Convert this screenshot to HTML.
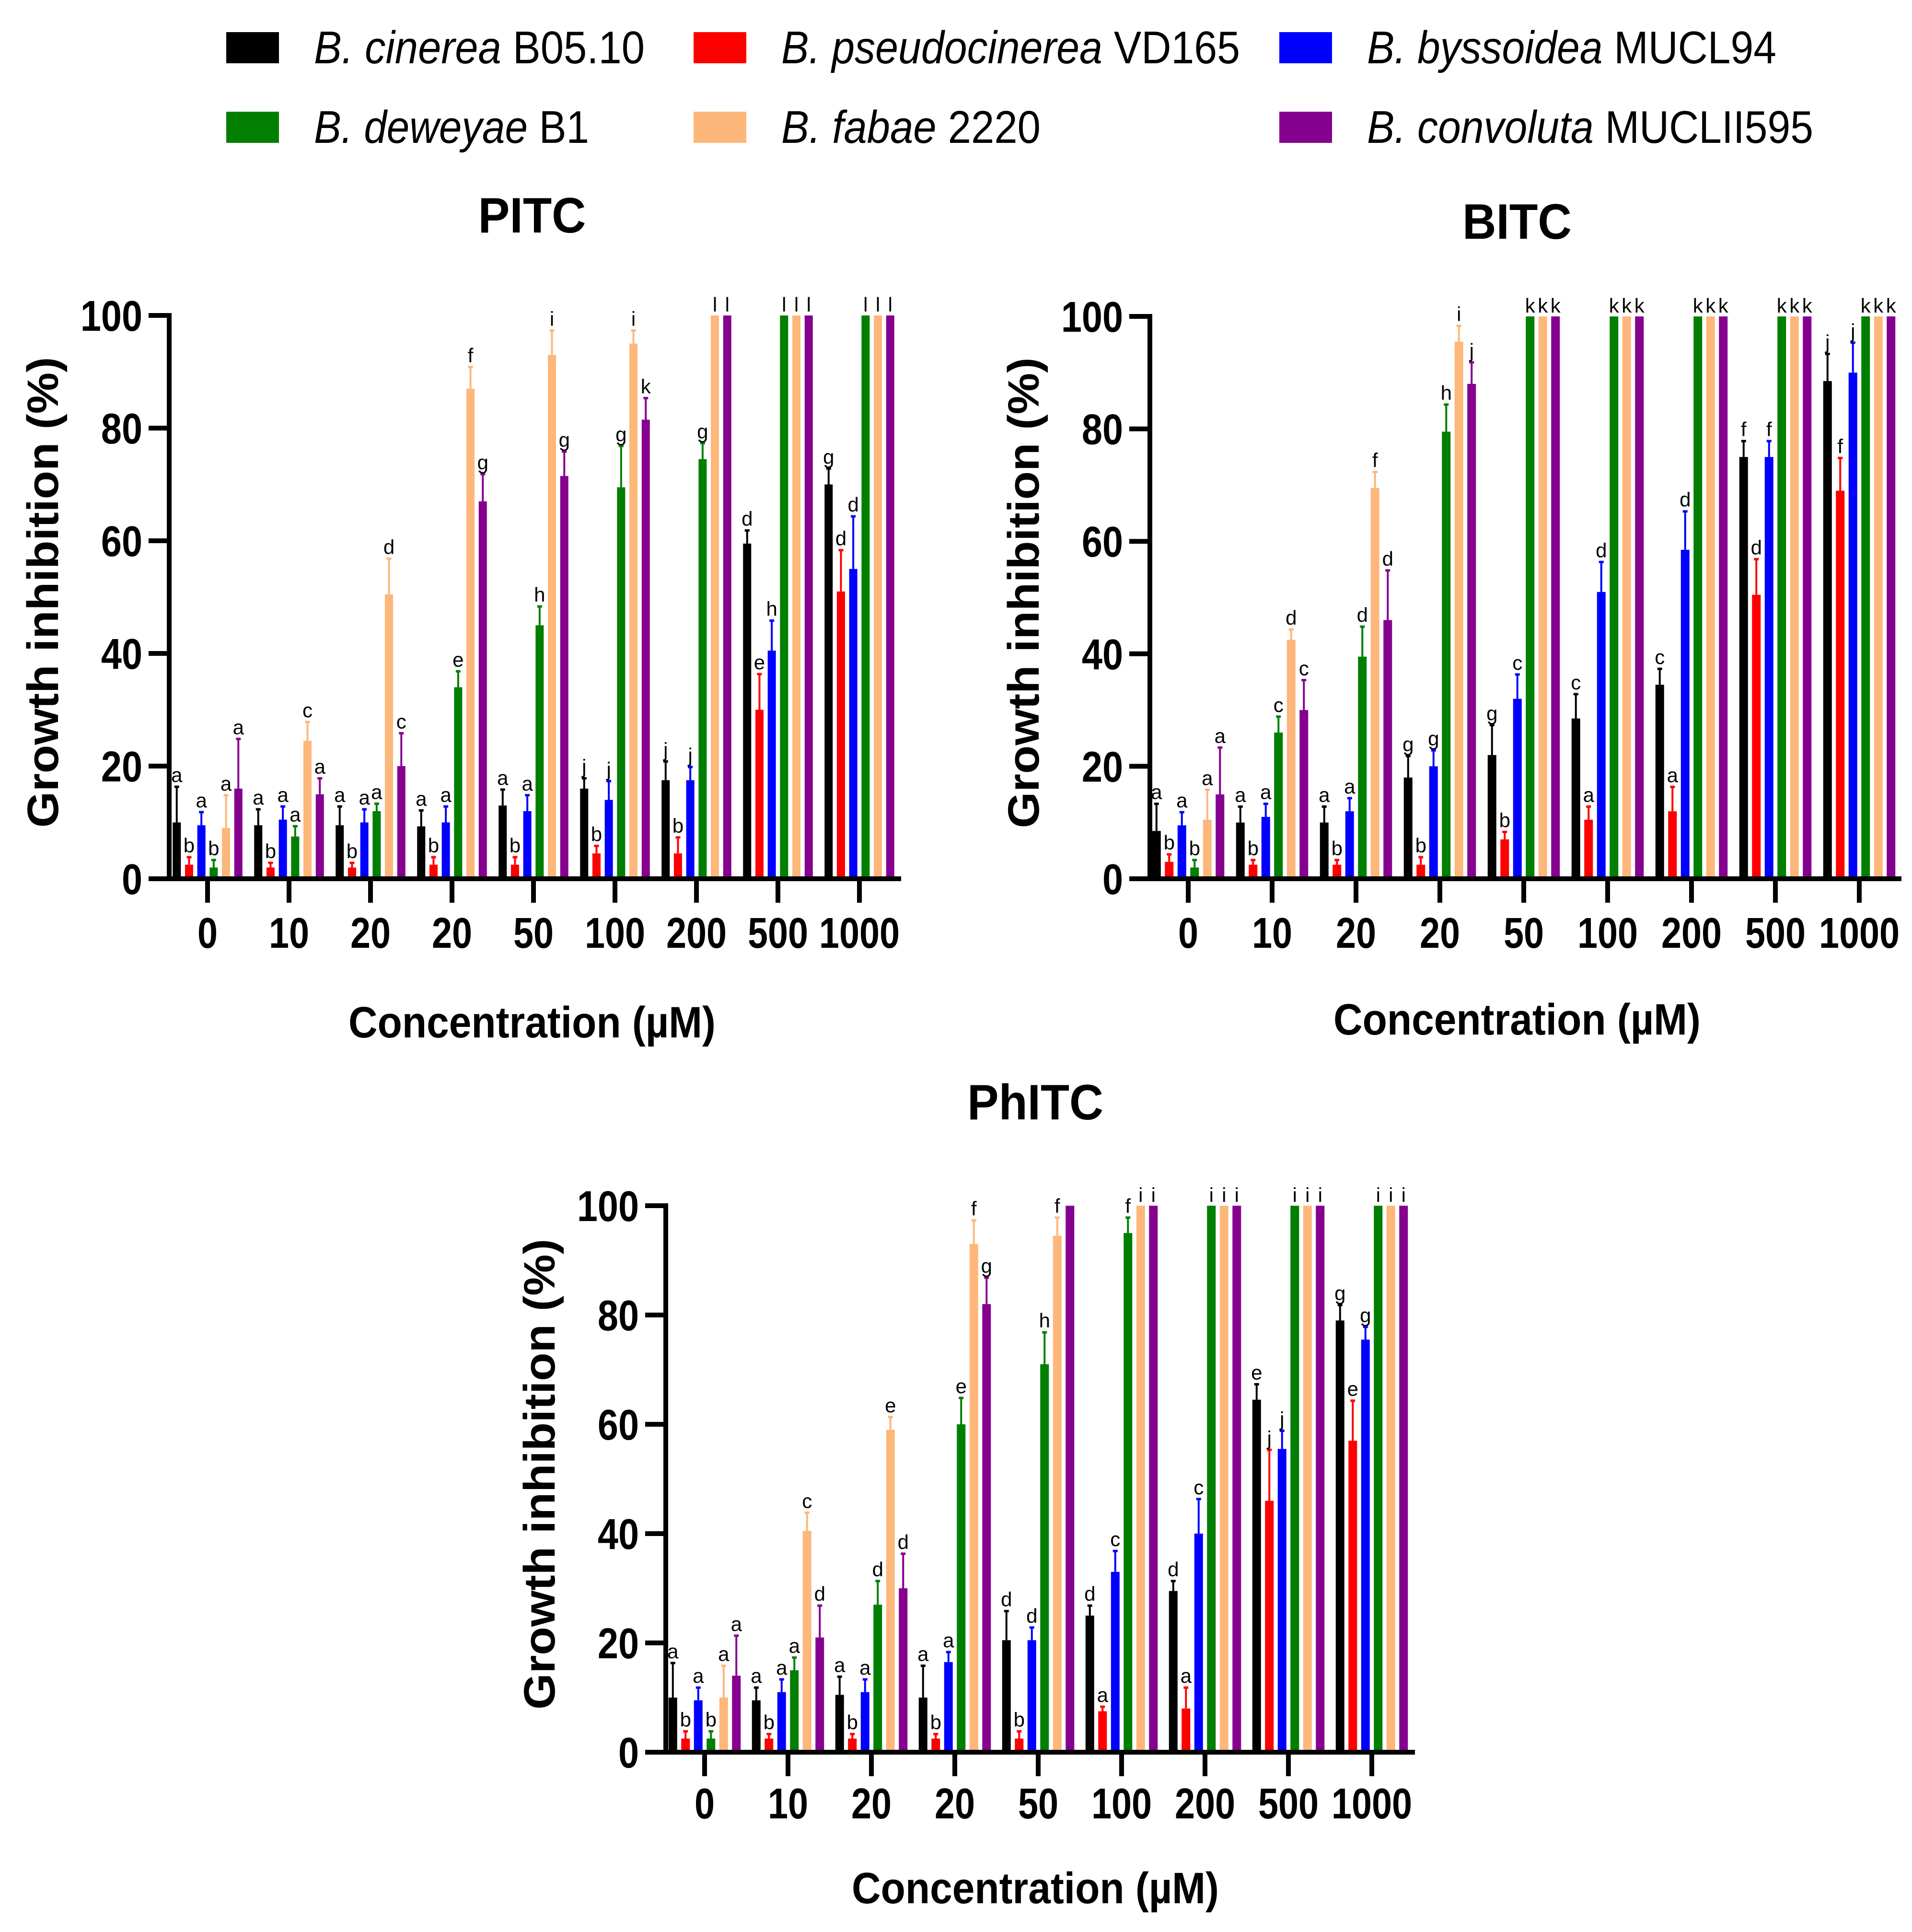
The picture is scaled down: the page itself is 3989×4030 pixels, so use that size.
<!DOCTYPE html>
<html><head><meta charset="utf-8">
<style>
html,body{margin:0;padding:0;background:#fff;}
svg{display:block;font-family:"Liberation Sans",Arial,sans-serif;}
</style></head>
<body>
<svg id="fig" width="3989" height="4030" viewBox="0 0 3989 4030" xmlns="http://www.w3.org/2000/svg">
<g id="legend"></g>
<g id="c1"></g>
<g id="c2"></g>
<g id="c3"></g>
</svg>
<script>
const NS="http://www.w3.org/2000/svg";
const categories=["0","10","20","20","50","100","200","500","1000"];
const seriesNames=["cinerea","pseudocinerea","byssoidea","deweyae","fabae","convoluta"];
const seriesColors=["#000000","#FF0000","#0000FF","#007F00","#FDB77A","#86008F"];
const yTicks=[0,20,40,60,80,100];

// PITC
const pitcBlack=[10,9.5,9.5,9.3,13,16,17.5,59.5,70];
const pitcBlackErr=[6.5,3,3.5,3,3,2,3.5,2.5,3];
const pitcRed=[2.5,2,2,2.5,2.5,4.5,4.5,30,51];
const pitcRedErr=[1.5,1,1,1.5,1.5,1.5,3,6.5,7.5];
const pitcBlue=[9.5,10.5,10,10,12,14,17.5,40.5,55];
const pitcBlueErr=[2.5,2.5,2.5,3,3,3.5,2.5,5.5,9.5];
const pitcGreen=[2,7.5,12,34,45,69.5,74.5,100,100];
const pitcGreenErr=[1.5,2,1.5,3,3.5,7.5,3,0,0];
const pitcOrange=[9,24.5,50.5,87,93,95,100,100,100];
const pitcOrangeErr=[6,3.5,6.5,4,4.5,2.5,0,0,0];
const pitcPurple=[16,15,20,67,71.5,81.5,100,100,100];
const pitcPurpleErr=[9,3,6,5,4.5,4,0,0,0];
const pitcLetters=[["a","a","a","a","a","j","j","d","g"],["b","b","b","b","b","b","b","e","d"],["a","a","a","a","a","j","j","h","d"],["b","a","a","e","h","g","g","l","l"],["a","c","d","f","i","i","l","l","l"],["a","a","c","g","g","k","l","l","l"]];

// BITC
const bitcBlack=[8.5,10,10,18,22,28.5,34.5,75,88.5];
const bitcBlackErr=[5,3,3,4,5.5,4.5,3,3,5];
const bitcRed=[3,2.5,2.5,2.5,7,10.5,12,50.5,69];
const bitcRedErr=[1.5,1,1,1.5,1.5,2.5,4.5,6.5,6];
const bitcBlue=[9.5,11,12,20,32,51,58.5,75,90];
const bitcBlueErr=[2.5,2.5,2.5,3,4.5,5.5,7,3,5.5];
const bitcGreen=[2,26,39.5,79.5,100,100,100,100,100];
const bitcGreenErr=[1.5,3,5.5,5,0,0,0,0,0];
const bitcOrange=[10.5,42.5,69.5,95.5,100,100,100,100,100];
const bitcOrangeErr=[5.5,2,3,3,0,0,0,0,0];
const bitcPurple=[15,30,46,88,100,100,100,100,100];
const bitcPurpleErr=[8.5,5.5,9,4,0,0,0,0,0];
const bitcLetters=[["a","a","a","g","g","c","c","f","j"],["b","b","b","b","b","a","a","d","f"],["a","a","a","g","c","d","d","f","j"],["b","c","d","h","k","k","k","k","k"],["a","d","f","i","k","k","k","k","k"],["a","c","d","j","k","k","k","k","k"]];

// PhITC
const phitcBlack=[10,9.5,10.5,10,20.5,25,29.5,64.5,79];
const phitcBlackErr=[6.5,2.5,3.5,6,5.5,2,2,3,3];
const phitcRed=[2.5,2.5,2.5,2.5,2.5,7.5,8,46,57];
const phitcRedErr=[1.5,1,1,1,1.5,1,4,9.5,7.5];
const phitcBlue=[9.5,11,11,16.5,20.5,33,40,55.5,75.5];
const phitcBlueErr=[2.5,2.5,2.5,2,2.5,4,6.5,3.5,2.5];
const phitcGreen=[2.5,15,27,60,71,95,100,100,100];
const phitcGreenErr=[1.5,2.5,4.5,5,6,3,0,0,0];
const phitcOrange=[10,40.5,59,93,94.5,100,100,100,100];
const phitcOrangeErr=[6,3.5,2.5,4.5,3.5,0,0,0,0];
const phitcPurple=[14,21,30,82,100,100,100,100,100];
const phitcPurpleErr=[7.5,6,6.5,5,0,0,0,0,0];
const phitcLetters=[["a","a","a","a","d","d","d","e","g"],["b","b","b","b","b","a","a","j","e"],["a","a","a","a","d","c","c","j","g"],["b","a","d","e","h","f","i","i","i"],["a","c","e","f","f","i","i","i","i"],["a","d","d","g","","i","i","i","i"]];

function mk(parent,tag,attrs,text){
  const el=document.createElementNS(NS,tag);
  for(const k in attrs) el.setAttribute(k,attrs[k]);
  if(text!==undefined) el.textContent=text;
  parent.appendChild(el);
  return el;
}

// Legend
const legendItems=[
  {sp:"B. cinerea",st:" B05.10",x:472,y:67,w:690},
  {sp:"B. pseudocinerea",st:" VD165",x:1447,y:67,w:957},
  {sp:"B. byssoidea",st:" MUCL94",x:2669,y:67,w:854},
  {sp:"B. deweyae",st:" B1",x:472,y:233,w:574},
  {sp:"B. fabae",st:" 2220",x:1447,y:233,w:541},
  {sp:"B. convoluta",st:" MUCLII595",x:2669,y:233,w:931}
];
const lg=document.getElementById('legend');
legendItems.forEach((it,i)=>{
  const g=mk(lg,'g',{});
  
  
  const r=mk(g,'rect',{x:it.x,y:it.y,width:110,height:65,fill:seriesColors[i]});
  
  
  const t=mk(g,'text',{x:it.x+183,y:it.y+65,'font-size':96,fill:'#000',textLength:it.w,lengthAdjust:'spacingAndGlyphs'});
  
  
  mk(t,'tspan',{'font-style':'italic'},it.sp);
  mk(t,'tspan',{},it.st);
});

function drawChart(gid,cfg){
  const g=document.getElementById(gid);
  const {axisX,x0,step,pitch,bw,y0,y100,right,vals,errs,letters}=cfg;
  const yS=v=>y0-(y0-y100)*v/100;
  const xS=(ci,si)=>x0+ci*step+(si-2.5)*pitch;
  for(let s=0;s<6;s++){
    for(let c=0;c<categories.length;c++){
      const v=vals[s][c], e=errs[s][c], col=seriesColors[s];
      const cx=xS(c,s);
      const top=yS(v);
      const r=mk(g,'rect',{x:cx-bw/2,y:top,width:bw,height:y0-top,fill:col});
      
      
      let lblY=top-8;
      if(e>0){
        const et=yS(v+e);
        const l=mk(g,'line',{x1:cx,x2:cx,y1:top,y2:et,stroke:col,'stroke-width':4});
        
        
        const cap=mk(g,'line',{x1:cx-5,x2:cx+5,y1:et+2,y2:et+2,stroke:col,'stroke-width':5});
        
        
        lblY=et-8;
      }
      const lt=letters[s][c];
      if(lt){
        const t=mk(g,'text',{x:cx,y:lblY,'font-size':42,'text-anchor':'middle',fill:'#000'},lt);
        
        
      }
    }
  }
  const ya=mk(g,'line',{x1:axisX,x2:axisX,y1:y100-5,y2:y0+5,stroke:'#000','stroke-width':10});
  
  
  const xa=mk(g,'line',{x1:axisX-43,x2:right,y1:y0,y2:y0,stroke:'#000','stroke-width':10});
  
  
  yTicks.forEach(v=>{
    const y=yS(v);
    const tk=mk(g,'line',{x1:axisX-43,x2:axisX,y1:y,y2:y,stroke:'#000','stroke-width':10});
    
    
    const t=mk(g,'text',{transform:`translate(${axisX-56},${y+32}) scale(0.86,1)`,'font-size':90,'font-weight':'bold','text-anchor':'end',fill:'#000'},String(v));
    
    
  });
  categories.forEach((c,i)=>{
    const x=x0+i*step;
    const tk=mk(g,'line',{x1:x,x2:x,y1:y0,y2:y0+50,stroke:'#000','stroke-width':10});
    
    
    const t=mk(g,'text',{transform:`translate(${x},${cfg.xlabY}) scale(0.84,1)`,'font-size':90,'font-weight':'bold','text-anchor':'middle',fill:'#000'},c);
    
    
  });
  const tt=mk(g,'text',{x:cfg.titleX,y:cfg.titleY,'font-size':104,'font-weight':'bold','text-anchor':'middle',fill:'#000',textLength:cfg.titleW,lengthAdjust:'spacingAndGlyphs'},cfg.title);
  
  
  const xt=mk(g,'text',{x:cfg.titleX,y:cfg.xtitleY,'font-size':92,'font-weight':'bold','text-anchor':'middle',fill:'#000',textLength:766,lengthAdjust:'spacingAndGlyphs'},'Concentration (µM)');
  
  
  const ycx=axisX-262, ycy=(y0+y100)/2-10;
  const yt=mk(g,'text',{transform:`translate(${ycx+30},${ycy}) rotate(-90)`,x:0,y:0,'font-size':92,'font-weight':'bold','text-anchor':'middle',fill:'#000',textLength:982,lengthAdjust:'spacingAndGlyphs'},'Growth inhibition (%)');
  
  
}

drawChart('c1',{axisX:353,x0:433,step:170,pitch:25.7,bw:17,y0:1833,y100:658,right:1880,xlabY:1977,
  title:'PITC',titleX:1110,titleY:485,titleW:225,xtitleY:2164,
  vals:[pitcBlack,pitcRed,pitcBlue,pitcGreen,pitcOrange,pitcPurple],
  errs:[pitcBlackErr,pitcRedErr,pitcBlueErr,pitcGreenErr,pitcOrangeErr,pitcPurpleErr],
  letters:pitcLetters});
drawChart('c2',{axisX:2399,x0:2479,step:175,pitch:26.5,bw:18,y0:1833,y100:660,right:3967,xlabY:1977,
  title:'BITC',titleX:3165,titleY:498,titleW:228,xtitleY:2158,
  vals:[bitcBlack,bitcRed,bitcBlue,bitcGreen,bitcOrange,bitcPurple],
  errs:[bitcBlackErr,bitcRedErr,bitcBlueErr,bitcGreenErr,bitcOrangeErr,bitcPurpleErr],
  letters:bitcLetters});
drawChart('c3',{axisX:1389,x0:1470,step:174,pitch:26.5,bw:18,y0:3655,y100:2515,right:2952,xlabY:3793,
  title:'PhITC',titleX:2160,titleY:2335,titleW:284,xtitleY:3970,
  vals:[phitcBlack,phitcRed,phitcBlue,phitcGreen,phitcOrange,phitcPurple],
  errs:[phitcBlackErr,phitcRedErr,phitcBlueErr,phitcGreenErr,phitcOrangeErr,phitcPurpleErr],
  letters:phitcLetters});
</script>
</body></html>
